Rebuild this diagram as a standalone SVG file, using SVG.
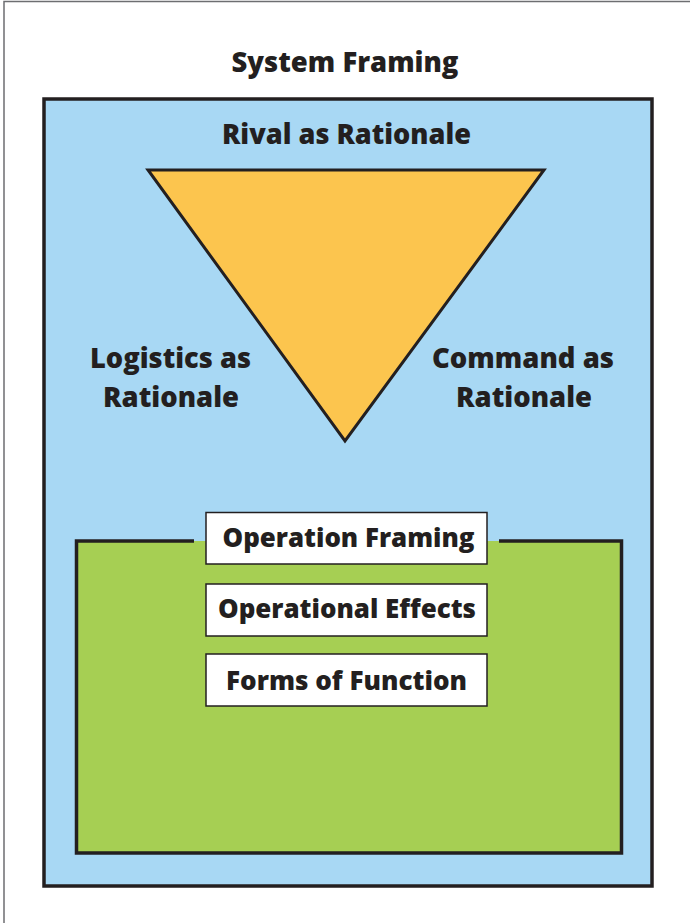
<svg xmlns="http://www.w3.org/2000/svg" width="690" height="923" viewBox="0 0 690 923">
<style>
.t{font-family:"Open Sans","Liberation Sans",sans-serif;font-weight:800;fill:#231F20;text-anchor:middle;}
.big{font-size:28px;}
.mid{font-size:27px;}
.box{fill:#FFFFFF;stroke:#231F20;stroke-width:1.5;}
</style>
<rect x="0" y="0" width="690" height="923" fill="#FFFFFF"/>
<path d="M4,923 V1.5 H690" fill="none" stroke="#6D6E71" stroke-width="1.5"/>
<text class="t big" x="345" y="72" textLength="227" lengthAdjust="spacingAndGlyphs">System Framing</text>
<g id="system">
<rect x="44" y="99" width="608" height="787" fill="#A8D8F4" stroke="#231F20" stroke-width="3.5"/>
</g>
<g id="rival">
<text class="t big" x="346.5" y="144" textLength="249" lengthAdjust="spacingAndGlyphs">Rival as Rationale</text>
</g>
<g id="triangle">
<polygon points="148,170 544,170 345,441" fill="#FCC54E" stroke="#231F20" stroke-width="3" stroke-linejoin="miter"/>
</g>
<g id="logistics">
<text class="t big" x="170.5" y="368" textLength="161" lengthAdjust="spacingAndGlyphs">Logistics as</text>
<text class="t big" x="171" y="407" textLength="136" lengthAdjust="spacingAndGlyphs">Rationale</text>
</g>
<g id="command">
<text class="t big" x="523" y="368" textLength="182" lengthAdjust="spacingAndGlyphs">Command as</text>
<text class="t big" x="524" y="407" textLength="136" lengthAdjust="spacingAndGlyphs">Rationale</text>
</g>
<g id="operation">
<rect x="76.5" y="541" width="545" height="312" fill="#A6CF53"/>
<path d="M194,541 H76.5 V853 H621.5 V541 H499" fill="none" stroke="#231F20" stroke-width="3.5"/>
</g>
<g id="operation-framing">
<rect class="box" x="206" y="512.5" width="281" height="51.5"/>
<text class="t mid" x="348.5" y="547" textLength="252" lengthAdjust="spacingAndGlyphs">Operation Framing</text>
</g>
<g id="operational-effects">
<rect class="box" x="206" y="584" width="281" height="52"/>
<text class="t mid" x="347" y="618" textLength="258" lengthAdjust="spacingAndGlyphs">Operational Effects</text>
</g>
<g id="forms-of-function">
<rect class="box" x="206" y="654" width="281" height="52"/>
<text class="t mid" x="346.5" y="690" textLength="241" lengthAdjust="spacingAndGlyphs">Forms of Function</text>
</g>
<g id="connectors"></g>
</svg>
